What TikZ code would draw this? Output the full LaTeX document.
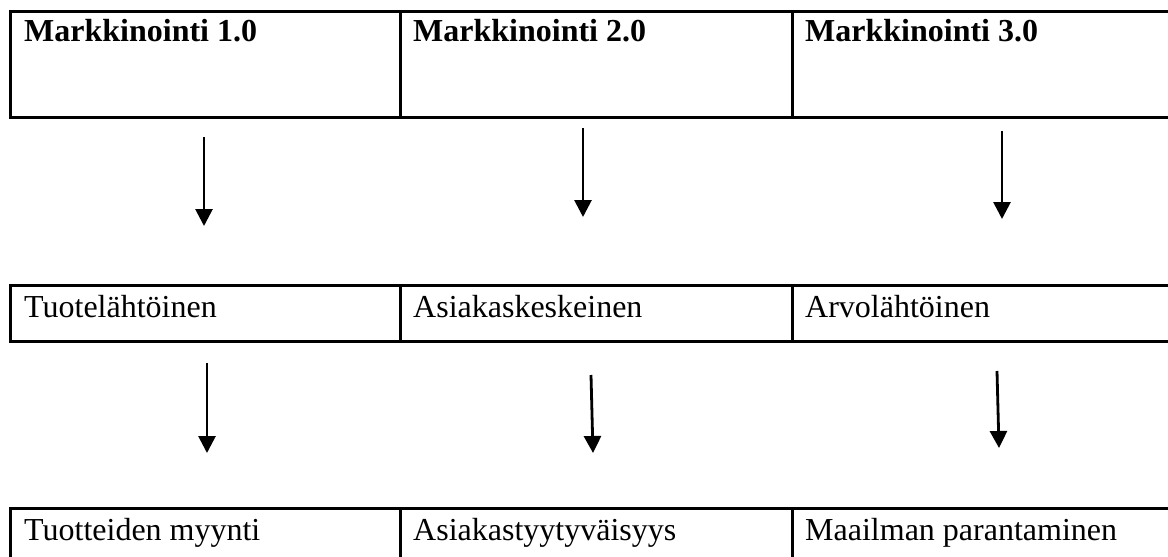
\documentclass[tikz,border=0pt]{standalone}
\usepackage{fontspec}
\setmainfont{Liberation Serif}
\usetikzlibrary{arrows.meta}
\begin{document}
\begin{tikzpicture}[x=1pt,y=-1pt,
  cell/.style={draw,line width=3pt,rectangle,inner sep=0pt,outer sep=0pt,anchor=north west},
  txt/.style={inner sep=0pt,anchor=base west,font=\fontsize{32}{38}\selectfont},
  flow/.style={line width=2.8pt,-{Triangle[width=17pt,length=17pt]}}]
\clip (0,0) rectangle (1168,557);
% header row
\node[cell,minimum width=390pt,minimum height=106pt] (h1) at (10,11) {};
\node[cell,minimum width=392pt,minimum height=106pt] (h2) at (400,11) {};
\node[cell,minimum width=400pt,minimum height=106pt] (h3) at (792,11) {};
\node[txt,font=\fontsize{32}{38}\selectfont\bfseries] (th1) at (24,41) {Markkinointi 1.0};
\node[txt,font=\fontsize{32}{38}\selectfont\bfseries] (th2) at (413,41) {Markkinointi 2.0};
\node[txt,font=\fontsize{32}{38}\selectfont\bfseries] (th3) at (805,41) {Markkinointi 3.0};
% middle row
\node[cell,minimum width=390pt,minimum height=56pt] (m1) at (10,285) {};
\node[cell,minimum width=392pt,minimum height=56pt] (m2) at (400,285) {};
\node[cell,minimum width=400pt,minimum height=56pt] (m3) at (792,285) {};
\node[txt] (tm1) at (24,317) {Tuotelähtöinen};
\node[txt] (tm2) at (413,317) {Asiakaskeskeinen};
\node[txt] (tm3) at (805,317) {Arvolähtöinen};
% bottom row
\node[cell,minimum width=390pt,minimum height=70pt] (b1) at (10,508) {};
\node[cell,minimum width=392pt,minimum height=70pt] (b2) at (400,508) {};
\node[cell,minimum width=400pt,minimum height=70pt] (b3) at (792,508) {};
\node[txt] (tb1) at (24,540) {Tuotteiden myynti};
\node[txt] (tb2) at (413,540) {Asiakastyytyväisyys};
\node[txt] (tb3) at (805,540) {Maailman parantaminen};
% arrows between the rows
\coordinate (a1s) at (204,137); \coordinate (a1e) at (204,226);
\coordinate (a2s) at (583,128); \coordinate (a2e) at (583,217);
\coordinate (a3s) at (1002,131); \coordinate (a3e) at (1002,219);
\coordinate (a4s) at (207,363); \coordinate (a4e) at (207,453);
\coordinate (a5s) at (591,375); \coordinate (a5e) at (593,453);
\coordinate (a6s) at (997,371); \coordinate (a6e) at (999,448);
\draw[flow] (a1s) -- (a1e);
\draw[flow] (a2s) -- (a2e);
\draw[flow] (a3s) -- (a3e);
\draw[flow] (a4s) -- (a4e);
\draw[flow] (a5s) -- (a5e);
\draw[flow] (a6s) -- (a6e);
\end{tikzpicture}
\end{document}
